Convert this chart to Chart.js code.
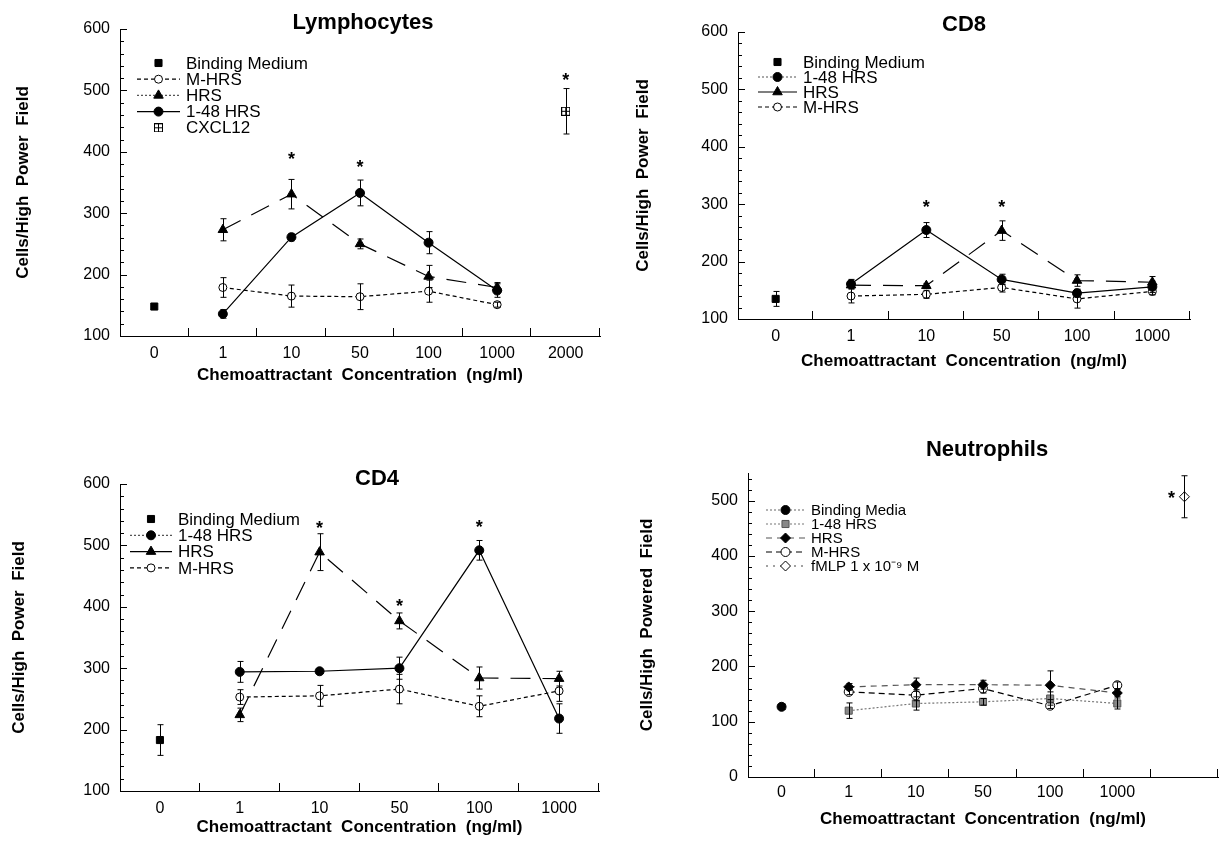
<!DOCTYPE html>
<html>
<head>
<meta charset="utf-8">
<script src="https://cdn.jsdelivr.net/npm/chart.js@4.4.1/dist/chart.umd.min.js"></script>
<style>
  html, body { margin: 0; padding: 0; background: #fff; overflow: hidden; width: 1221px; height: 846px; }
  canvas { position: absolute; }
</style>
</head>
<body>
<canvas id="lym" width="610" height="400" style="left:0;top:0"></canvas>
<canvas id="cd8" width="611" height="400" style="left:610px;top:0"></canvas>
<canvas id="cd4" width="610" height="426" style="left:0;top:420px"></canvas>
<canvas id="neu" width="614" height="426" style="left:610px;top:420px"></canvas>
<script>
// ---- data ----
const lymCats = ['0', '1', '10', '50', '100', '1000', '2000'];
const lymBinding = [148, null, null, null, null, null, null];
const lymMhrs = [null, 179, 165, 164, 173, 151, null];
const lymMhrsErr = [0, 16, 18, 21, 18, 4, 0];
const lymHrs = [null, 273, 331, 250, 197, 179, null];
const lymHrsErr = [0, 18, 24, 8, 18, 8, 0];
const lym148 = [null, 136, 261, 333, 252, 174, null];
const lym148Err = [0, 7, 6, 21, 18, 11, 0];
const lymCxcl = [null, null, null, null, null, null, 466];
const lymCxclErr = [0, 0, 0, 0, 0, 0, 37];
const lymStars = [['10', 395], ['50', 382], ['2000', 523]];

const cd8Cats = ['0', '1', '10', '50', '100', '1000'];
const cd8Binding = [135, null, null, null, null, null];
const cd8BindingErr = [13, 0, 0, 0, 0, 0];
const cd8148 = [null, 161, 255, 169, 145, 156];
const cd8148Err = [0, 8, 13, 9, 7, 10];
const cd8Hrs = [null, 159, 158, 254, 167, 164];
const cd8HrsErr = [0, 5, 4, 17, 10, 10];
const cd8Mhrs = [null, 140, 143, 155, 135, 148];
const cd8MhrsErr = [0, 12, 7, 8, 16, 6];
const cd8Stars = [['10', 302], ['50', 302]];

const cd4Cats = ['0', '1', '10', '50', '100', '1000'];
const cd4Binding = [183, null, null, null, null, null];
const cd4BindingErr = [25, 0, 0, 0, 0, 0];
const cd4148 = [null, 294, 295, 300, 492, 218];
const cd4148Err = [0, 17, 3, 18, 16, 24];
const cd4Hrs = [null, 224, 489, 377, 284, 283];
const cd4HrsErr = [0, 11, 30, 13, 18, 12];
const cd4Mhrs = [null, 253, 255, 266, 238, 263];
const cd4MhrsErr = [0, 12, 17, 24, 17, 17];
const cd4Stars = [['10', 535], ['50', 408], ['100', 536]];

const neuCats = ['0', '1', '10', '50', '100', '1000', ''];
const neuBinding = [127, null, null, null, null, null, null];
const neuBindingErr = [5, 0, 0, 0, 0, 0, 0];
const neu148 = [null, 120, 133, 136, 142, 133, null];
const neu148Err = [0, 14, 12, 6, 12, 10, 0];
const neuHrs = [null, 163, 167, 167, 166, 152, null];
const neuHrsErr = [0, 6, 12, 8, 26, 6, 0];
const neuMhrs = [null, 154, 148, 160, 129, 166, null];
const neuMhrsErr = [0, 5, 10, 8, 5, 6, 0];
const neuFmlp = [null, null, null, null, null, null, 507];
const neuFmlpErr = [0, 0, 0, 0, 0, 0, 38];
const neuStars = [['', 512]];

const FONT = '"Liberation Sans", Arial, Helvetica, sans-serif';
const X_TITLE = 'Chemoattractant  Concentration  (ng/ml)';

// square with a cross for CXCL12
function boxPlus() {
  const c = document.createElement('canvas');
  c.width = 9; c.height = 9;
  const g = c.getContext('2d');
  g.fillStyle = '#fff'; g.fillRect(0, 0, 9, 9);
  g.strokeStyle = '#000'; g.lineWidth = 1;
  g.strokeRect(0.5, 0.5, 8, 8);
  g.beginPath();
  g.moveTo(4.5, 0); g.lineTo(4.5, 9);
  g.moveTo(0, 4.5); g.lineTo(9, 4.5);
  g.stroke();
  return c;
}

const STYLE = {
  binding: { showLine: false, pointStyle: 'rect', pointRadius: 5, pointBackgroundColor: '#000' },
  bindingDot: { showLine: false, pointStyle: 'circle', pointRadius: 4.5, pointBackgroundColor: '#000', legendDash: [2, 2], legendColor: '#666' },
  mhrs: { borderDash: [4, 3], pointStyle: 'circle', pointRadius: 4, pointBackgroundColor: '#fff' },
  hrs: { borderDash: [20, 12], pointStyle: 'triangle', pointRadius: 5.5, pointBackgroundColor: '#000' },
  h148: { pointStyle: 'circle', pointRadius: 4.5, pointBackgroundColor: '#000' },
  cxcl: { showLine: false, pointStyle: boxPlus(), pointRadius: 5 },
  n148: { borderDash: [2, 2], borderColor: '#777', pointStyle: 'rect', pointRadius: 5, pointBackgroundColor: '#888', pointBorderColor: '#555' },
  nhrs: { borderDash: [6, 5], borderColor: '#555', pointStyle: 'rectRot', pointRadius: 5, pointBackgroundColor: '#000' },
  nmhrs: { borderDash: [6, 4], pointStyle: 'circle', pointRadius: 4.5, pointBackgroundColor: '#fff' },
  fmlp: { showLine: false, pointStyle: 'rectRot', pointRadius: 5, pointBackgroundColor: '#fff', legendDash: [2, 5], legendColor: '#444' },
};

function ds(label, data, errors, style, extra) {
  return Object.assign({
    label, data, errors,
    borderColor: '#000', borderWidth: 1.2, pointBorderColor: '#000', pointBorderWidth: 1,
    tension: 0, spanGaps: false,
  }, style, extra || {});
}

// ---- plugins ----
const errorBars = {
  id: 'errorBars',
  afterDatasetsDraw(chart) {
    const { ctx, scales: { x, y } } = chart;
    ctx.save();
    ctx.strokeStyle = '#000';
    ctx.lineWidth = 1;
    ctx.setLineDash([]);
    chart.data.datasets.forEach(d => {
      if (!d.errors) return;
      d.data.forEach((v, i) => {
        const e = d.errors[i];
        if (v == null || !e) return;
        const px = Math.round(x.getPixelForValue(i)) + 0.5;
        const y1 = y.getPixelForValue(v + e), y2 = y.getPixelForValue(v - e);
        ctx.beginPath();
        ctx.moveTo(px, y1); ctx.lineTo(px, y2);
        ctx.moveTo(px - 3, y1); ctx.lineTo(px + 3, y1);
        ctx.moveTo(px - 3, y2); ctx.lineTo(px + 3, y2);
        ctx.stroke();
      });
    });
    ctx.restore();
  }
};

// inward tick marks: between categories on x, major/minor on y
const axisTicks = {
  id: 'axisTicks',
  afterDraw(chart) {
    const { ctx, chartArea: a, scales: { x, y } } = chart;
    ctx.save();
    ctx.strokeStyle = '#000';
    ctx.lineWidth = 1;
    ctx.beginPath();
    const n = x.getLabels().length;
    for (let i = 0; i < n; i++) {
      const px = i < n - 1 ? (x.getPixelForTick(i) + x.getPixelForTick(i + 1)) / 2 : a.right;
      const rx = Math.round(px) - 0.5;
      ctx.moveTo(rx, a.bottom); ctx.lineTo(rx, a.bottom - 8);
    }
    for (let v = y.min; v <= y.max; v += 20) {
      const py = Math.round(y.getPixelForValue(v)) + 0.5;
      ctx.moveTo(a.left, py); ctx.lineTo(a.left + (v % 100 === 0 ? 7 : 4), py);
    }
    ctx.stroke();
    ctx.restore();
  }
};

const panelTitle = {
  id: 'panelTitle',
  afterDraw(chart, args, opts) {
    if (!opts || !opts.text) return;
    const ctx = chart.ctx;
    ctx.save();
    ctx.fillStyle = '#000';
    ctx.font = 'bold 22px ' + FONT;
    ctx.textAlign = 'center';
    ctx.textBaseline = 'middle';
    ctx.fillText(opts.text, opts.x, opts.y);
    ctx.restore();
  }
};

const panelLegend = {
  id: 'panelLegend',
  afterDraw(chart, args, opts) {
    if (!opts || opts.x == null) return;
    const ctx = chart.ctx;
    ctx.save();
    chart.data.datasets.forEach((d, i) => {
      const ly = opts.y + i * opts.gap;
      const mx = opts.x + opts.len / 2;
      const dash = d.legendDash || d.borderDash;
      if (d.showLine !== false || d.legendDash) {
        ctx.strokeStyle = d.legendColor || d.borderColor;
        ctx.lineWidth = d.borderWidth;
        ctx.setLineDash(dash || []);
        ctx.beginPath();
        ctx.moveTo(opts.x, ly); ctx.lineTo(opts.x + opts.len, ly);
        ctx.stroke();
      }
      ctx.setLineDash([]);
      ctx.fillStyle = d.pointBackgroundColor || '#000';
      ctx.strokeStyle = d.pointBorderColor || '#000';
      ctx.lineWidth = 1;
      Chart.helpers.drawPoint(ctx, { pointStyle: d.pointStyle, rotation: 0, radius: d.pointRadius, borderWidth: 1 }, mx, ly);
      ctx.fillStyle = '#000';
      ctx.font = opts.size + 'px ' + FONT;
      ctx.textAlign = 'left';
      ctx.textBaseline = 'middle';
      ctx.fillText(d.label, opts.x + opts.len + 6, ly + 1);
    });
    ctx.restore();
  }
};

const stars = {
  id: 'stars',
  afterDraw(chart, args, opts) {
    if (!opts || !opts.items) return;
    const { ctx, scales: { x, y } } = chart;
    const labels = x.getLabels();
    ctx.save();
    ctx.fillStyle = '#000';
    ctx.font = 'bold 18px ' + FONT;
    ctx.textAlign = 'center';
    ctx.textBaseline = 'middle';
    opts.items.forEach(([cat, v]) => {
      const px = x.getPixelForValue(labels.indexOf(cat)) + (opts.dx || 0);
      ctx.fillText('*', px, y.getPixelForValue(v) + 5);
    });
    ctx.restore();
  }
};

function makeChart(id, cats, datasets, cfg) {
  return new Chart(document.getElementById(id), {
    type: 'line',
    data: { labels: cats, datasets },
    options: {
      responsive: false,
      animation: false,
      layout: { padding: { left: 0, top: cfg.top, right: cfg.right, bottom: 0 } },
      plugins: {
        legend: { display: false },
        tooltip: { enabled: false },
        panelTitle: cfg.title,
        panelLegend: cfg.legend,
        stars: cfg.stars,
      },
      scales: {
        x: {
          type: 'category',
          offset: true,
          grid: { display: false, drawTicks: false },
          border: { color: '#000', width: 1 },
          ticks: { color: '#000', font: { size: 16, family: FONT }, padding: cfg.xPad, maxRotation: 0, autoSkip: false },
          title: { display: true, text: X_TITLE, color: '#000', font: { size: 17, weight: 'bold', family: FONT }, padding: { top: 0, bottom: cfg.xTitlePad } },
          afterFit: s => { s.height = cfg.xHeight; },
        },
        y: {
          min: cfg.ymin,
          max: cfg.ymax,
          grid: { display: false, drawTicks: false },
          border: { color: '#000', width: 1 },
          ticks: { stepSize: 100, color: '#000', font: { size: 16, family: FONT }, padding: 10, callback: v => (v % 100 === 0 ? v : '') },
          title: { display: true, text: cfg.yTitle, color: '#000', font: { size: 17, weight: 'bold', family: FONT }, padding: { top: cfg.yTitlePad, bottom: 0 } },
          afterFit: s => { s.width = cfg.yWidth; },
        },
      },
    },
    plugins: [errorBars, axisTicks, panelTitle, panelLegend, stars],
  });
}

// legend samples in the original do not always match the plotted line style
const dotted = { legendDash: [2, 2], legendColor: '#555' };
const solid = { legendDash: [], legendColor: '#000' };

makeChart('lym', lymCats, [
  ds('Binding Medium', lymBinding, null, STYLE.binding),
  ds('M-HRS', lymMhrs, lymMhrsErr, STYLE.mhrs),
  ds('HRS', lymHrs, lymHrsErr, STYLE.hrs, dotted),
  ds('1-48 HRS', lym148, lym148Err, STYLE.h148),
  ds('CXCL12', lymCxcl, lymCxclErr, STYLE.cxcl),
], {
  top: 29, right: 10, xHeight: 64, yWidth: 120, ymin: 100, ymax: 600,
  xPad: 8, xTitlePad: 14, yTitlePad: 13, yTitle: 'Cells/High  Power  Field',
  title: { text: 'Lymphocytes', x: 363, y: 23 },
  legend: { x: 137, y: 63, gap: 16.2, len: 43, size: 17 },
  stars: { items: lymStars },
});

makeChart('cd8', cd8Cats, [
  ds('Binding Medium', cd8Binding, cd8BindingErr, STYLE.binding),
  ds('1-48 HRS', cd8148, cd8148Err, STYLE.h148, dotted),
  ds('HRS', cd8Hrs, cd8HrsErr, STYLE.hrs, solid),
  ds('M-HRS', cd8Mhrs, cd8MhrsErr, STYLE.mhrs),
], {
  top: 32, right: 31, xHeight: 81, yWidth: 128, ymin: 100, ymax: 600,
  xPad: 8, xTitlePad: 28, yTitlePad: 23, yTitle: 'Cells/High  Power  Field',
  title: { text: 'CD8', x: 354, y: 25 },
  legend: { x: 148, y: 62, gap: 15, len: 39, size: 17 },
  stars: { items: cd8Stars },
});

makeChart('cd4', cd4Cats, [
  ds('Binding Medium', cd4Binding, cd4BindingErr, STYLE.binding),
  ds('1-48 HRS', cd4148, cd4148Err, STYLE.h148, dotted),
  ds('HRS', cd4Hrs, cd4HrsErr, STYLE.hrs, solid),
  ds('M-HRS', cd4Mhrs, cd4MhrsErr, STYLE.mhrs),
], {
  top: 64, right: 11, xHeight: 55, yWidth: 120, ymin: 100, ymax: 600,
  xPad: 8, xTitlePad: 8, yTitlePad: 9, yTitle: 'Cells/High  Power  Field',
  title: { text: 'CD4', x: 377, y: 59 },
  legend: { x: 130, y: 99, gap: 16.3, len: 42, size: 17 },
  stars: { items: cd4Stars },
});

makeChart('neu', neuCats, [
  ds('Binding Media', neuBinding, neuBindingErr, STYLE.bindingDot),
  ds('1-48 HRS', neu148, neu148Err, STYLE.n148),
  ds('HRS', neuHrs, neuHrsErr, STYLE.nhrs),
  ds('M-HRS', neuMhrs, neuMhrsErr, STYLE.nmhrs),
  ds('fMLP 1 x 10⁻⁹ M', neuFmlp, neuFmlpErr, STYLE.fmlp),
], {
  top: 53, right: 0, xHeight: 69, yWidth: 138, ymin: 0, ymax: 550,
  xPad: 6, xTitlePad: 16, yTitlePad: 27, yTitle: 'Cells/High  Powered  Field',
  title: { text: 'Neutrophils', x: 377, y: 30 },
  legend: { x: 156, y: 90, gap: 14, len: 39, size: 15 },
  stars: { items: neuStars, dx: -13 },
});
</script>
</body>
</html>
